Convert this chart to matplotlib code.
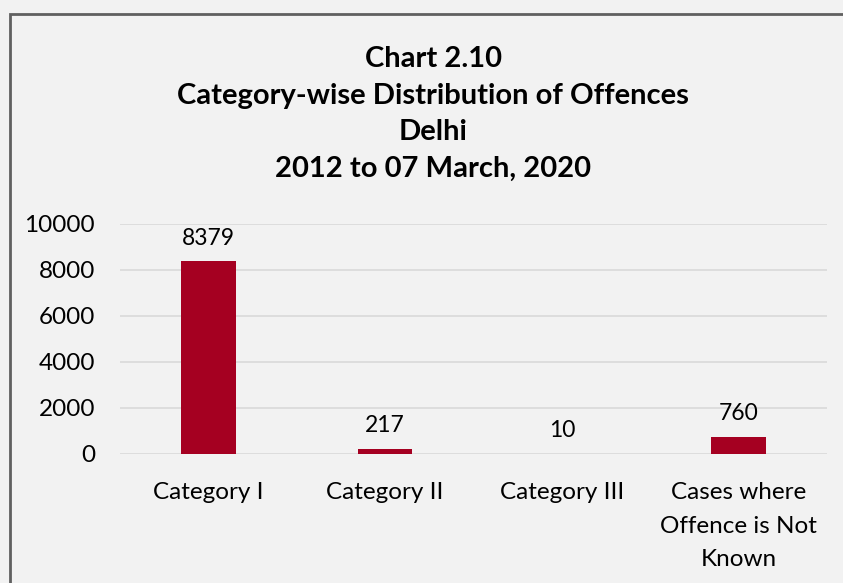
import matplotlib
matplotlib.use("Agg")
import matplotlib.pyplot as plt
from matplotlib.patches import Rectangle

categories = ["Category I", "Category II", "Category III",
              "Cases where\nOffence is Not\nKnown"]
offences = [8379, 217, 10, 760]
yticks = [0, 2000, 4000, 6000, 8000, 10000]
title_lines = ["Chart 2.10", "Category-wise Distribution of Offences",
               "Delhi", "2012 to 07 March, 2020"]

plt.rcParams['font.family'] = ['Lato', 'DejaVu Sans']
bg = '#f2f2f2'
barColor = '#a50021'

fig = plt.figure(figsize=(8.43, 5.83), dpi=100, facecolor=bg)
ax = fig.add_axes([0.1423, 0.2213, 0.8387, 0.3945])
ax.set_facecolor(bg)

x = range(len(categories))
ax.bar(x, offences, width=0.31, color=barColor, zorder=3)
for i, v in enumerate(offences):
    ax.annotate(str(v), (i, v), xytext=(0, 9), textcoords='offset points',
                ha='center', va='bottom', fontsize=16.5, color='#000000')

ax.set_xlim(-0.5, len(categories) - 0.5)
ax.set_ylim(0, 10000)
ax.set_yticks(yticks)
ax.set_xticks(list(x))
ax.set_xticklabels(categories, fontsize=17.5, linespacing=1.75)
ax.tick_params(axis='y', labelsize=17.5, length=0, pad=18)
ax.tick_params(axis='x', length=0, pad=20)
ax.grid(axis='y', color='#d9d9d9', linewidth=1.2, zorder=0)
for s in ax.spines.values():
    s.set_visible(False)

fig.text(0.514, 0.8045, "\n".join(title_lines), ha='center', va='center',
         fontsize=21, fontweight='bold', linespacing=1.5)

# outer chart border
fig.patches.append(Rectangle((10 / 843, -0.1), 1.2, 1 - 14 / 583 + 0.1,
                             transform=fig.transFigure, fill=False,
                             edgecolor='#606060', linewidth=2))

fig.savefig("out.png", dpi=100, facecolor=bg)
